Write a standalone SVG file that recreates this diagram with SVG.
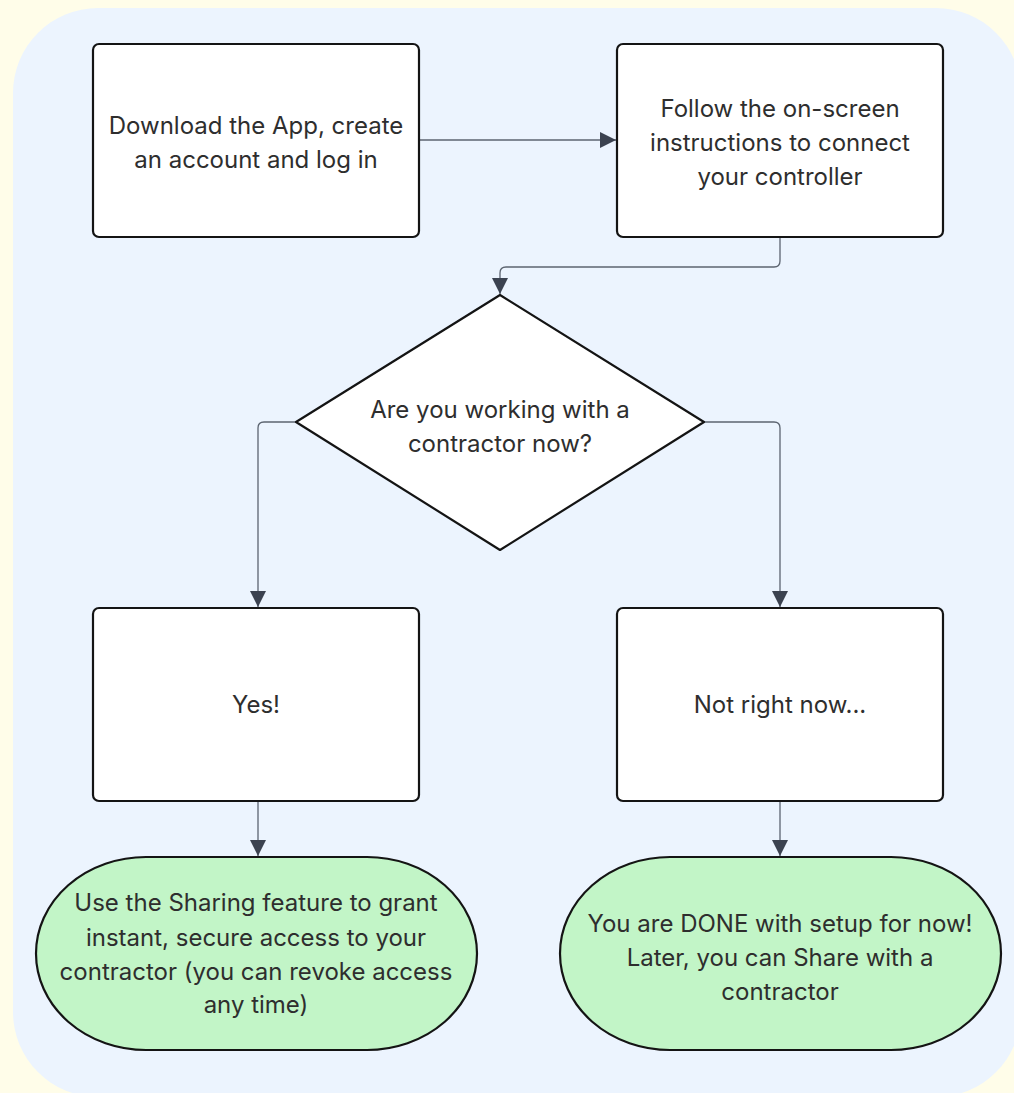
<svg xmlns="http://www.w3.org/2000/svg" width="1014" height="1093" viewBox="0 0 1014 1093">
<defs>
<style>
.node{fill:#ffffff;stroke:#141414;stroke-width:2.2}
.term{fill:#c2f5c7;stroke:#141414;stroke-width:2.2}
.conn{fill:none;stroke:#5c6470;stroke-width:1.3}
text{font-family:Inter,"Noto Sans","Liberation Sans",sans-serif;font-size:24px;fill:#2e2e2e;text-anchor:middle}
</style>
<marker id="arr" viewBox="0 0 10 10" refX="10" refY="5" markerWidth="16" markerHeight="16" markerUnits="userSpaceOnUse" orient="auto">
<path d="M0,0 L10,5 L0,10 Z" fill="#3b4250"/>
</marker>
</defs>
<rect x="0" y="0" width="1014" height="1093" fill="#fffde9"/>
<rect x="13" y="8" width="1008" height="1089" rx="85" ry="85" fill="#ecf4fe"/>
<g id="connectors">
<path class="conn" d="M419,140 L616,140" marker-end="url(#arr)"/>
<path class="conn" d="M780,237 L780,261 Q780,267 774,267 L506,267 Q500,267 500,273 L500,294" marker-end="url(#arr)"/>
<path class="conn" d="M296,422 L264,422 Q258,422 258,428 L258,607" marker-end="url(#arr)"/>
<path class="conn" d="M704,422 L774,422 Q780,422 780,428 L780,607" marker-end="url(#arr)"/>
<path class="conn" d="M258,801 L258,856" marker-end="url(#arr)"/>
<path class="conn" d="M780,801 L780,856" marker-end="url(#arr)"/>
</g>
<g id="node-download">
<rect class="node" x="93" y="44" width="326" height="193" rx="6"/>
<text x="256" y="134">Download the App, create</text>
<text x="256" y="168">an account and log in</text>
</g>
<g id="node-follow">
<rect class="node" x="617" y="44" width="326" height="193" rx="6"/>
<text x="780" y="117">Follow the on-screen</text>
<text x="780" y="151">instructions to connect</text>
<text x="780" y="185">your controller</text>
</g>
<g id="node-decision">
<path class="node" d="M500,295 L704,422 L500,550 L296,422 Z" stroke-linejoin="round"/>
<text x="500" y="418">Are you working with a</text>
<text x="500" y="452">contractor now?</text>
</g>
<g id="node-yes">
<rect class="node" x="93" y="608" width="326" height="193" rx="6"/>
<text x="256" y="713">Yes!</text>
</g>
<g id="node-notnow">
<rect class="node" x="617" y="608" width="326" height="193" rx="6"/>
<text x="780" y="713">Not right now...</text>
</g>
<g id="node-share">
<rect class="term" x="36" y="857" width="441" height="193" rx="110" ry="96.5"/>
<text x="256" y="911">Use the Sharing feature to grant</text>
<text x="256" y="946">instant, secure access to your</text>
<text x="256" y="980">contractor (you can revoke access</text>
<text x="256" y="1013">any time)</text>
</g>
<g id="node-done">
<rect class="term" x="560" y="857" width="441" height="193" rx="110" ry="96.5"/>
<text x="780" y="932">You are DONE with setup for now!</text>
<text x="780" y="966">Later, you can Share with a</text>
<text x="780" y="1000">contractor</text>
</g>
</svg>
